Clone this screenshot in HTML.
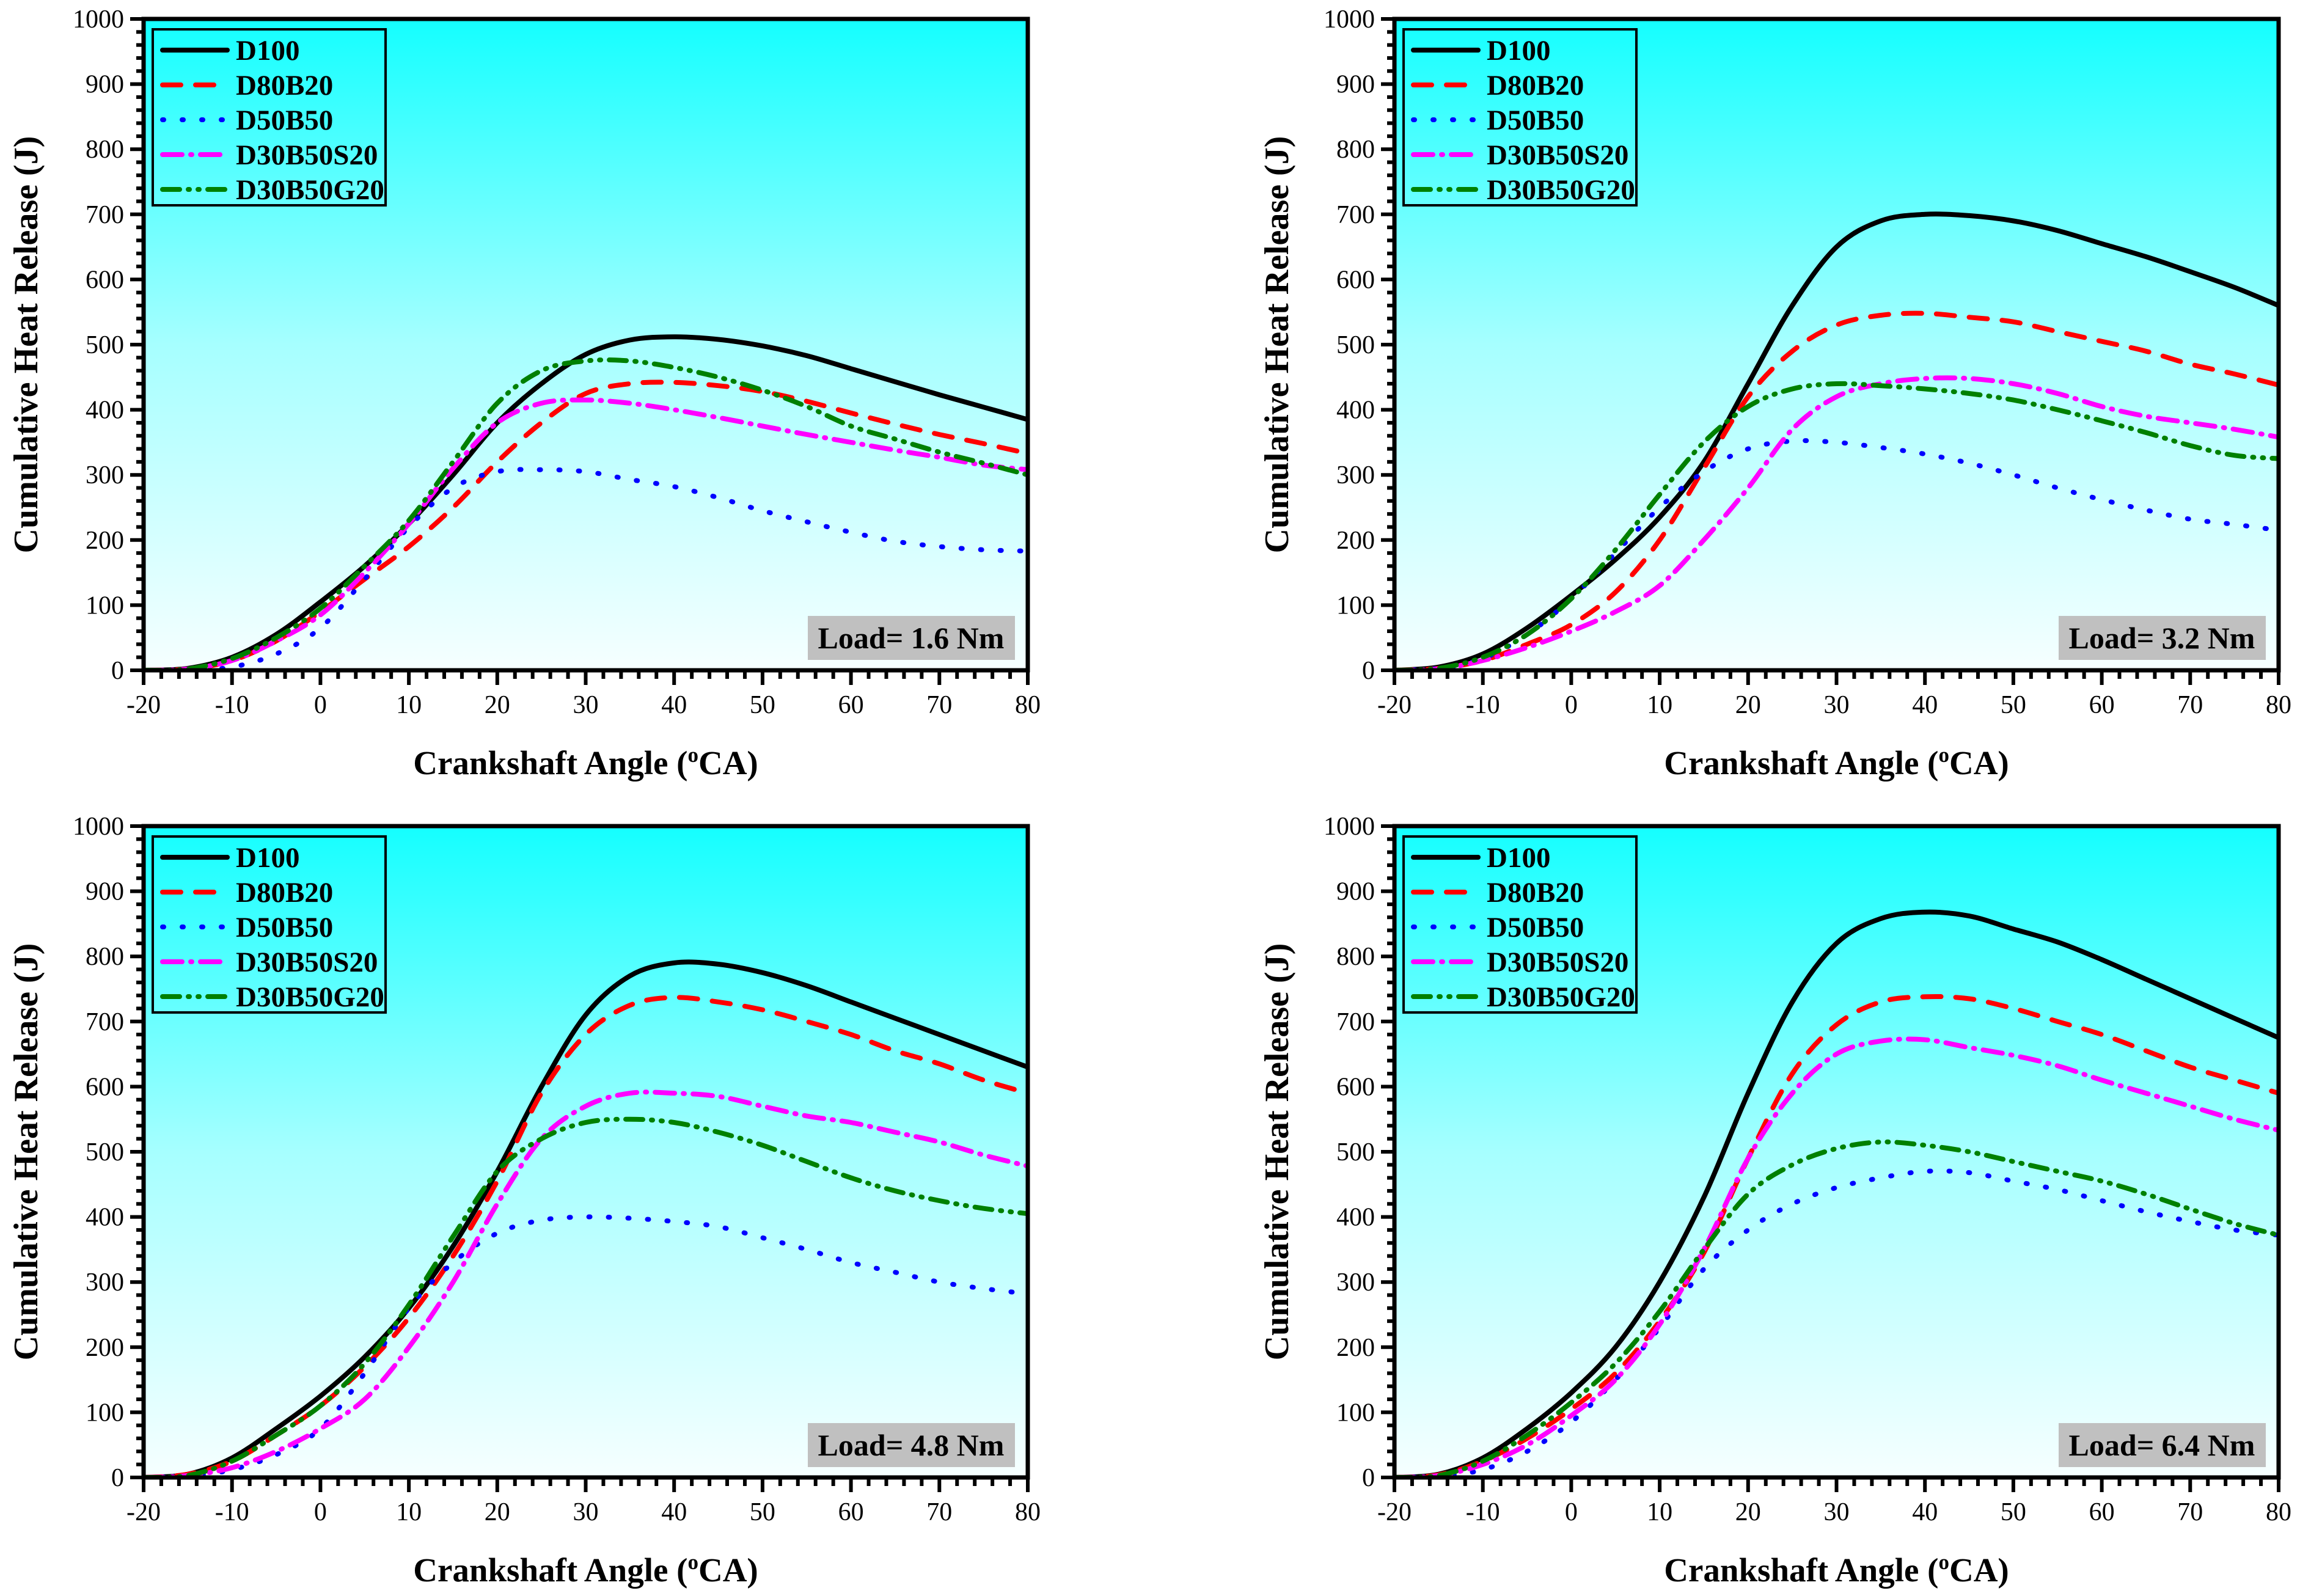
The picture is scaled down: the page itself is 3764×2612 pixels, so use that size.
<!DOCTYPE html>
<html><head><meta charset="utf-8"><style>
html,body{margin:0;padding:0;background:#fff;}
svg{display:block;font-family:"Liberation Serif",serif;}
</style></head><body>
<svg id="chart" width="3764" height="2612" viewBox="0 0 3764 2612" xmlns="http://www.w3.org/2000/svg">
<defs><linearGradient id="bg" x1="0" y1="0" x2="0" y2="1">
<stop offset="0" stop-color="#14ffff"/><stop offset="0.5" stop-color="#a6ffff"/><stop offset="1" stop-color="#f6ffff"/></linearGradient></defs>
</svg>
<script>
const xVals=[-20,-15,-10,-5,0,5,10,15,20,25,30,35,40,45,50,55,60,65,70,75,80];
const seriesNames=["D100","D80B20","D50B50","D30B50S20","D30B50G20"];
const loads=["Load= 1.6 Nm","Load= 3.2 Nm","Load= 4.8 Nm","Load= 6.4 Nm"];
const p1D100=[0,3,20,55,105,160,225,300,380,440,485,507,512,508,498,483,463,443,423,404,385];
const p1D80B20=[0,2,15,45,90,140,190,250,320,380,425,440,442,437,428,413,395,378,362,348,333];
const p1D50B50=[0,0,5,25,65,140,220,280,305,308,305,293,282,265,245,228,212,198,190,185,183];
const p1S20=[0,2,15,45,85,150,225,310,380,410,415,410,400,388,375,362,350,338,327,315,308];
const p1G20=[0,2,18,50,95,160,230,320,410,460,475,475,465,450,430,405,375,355,335,318,300];
const p2D100=[0,5,25,65,115,170,235,320,440,560,650,690,700,698,690,675,655,635,612,588,560];
const p2D80B20=[0,3,15,40,70,120,200,310,420,490,530,545,548,542,535,520,505,490,470,455,438];
const p2D50B50=[0,3,18,55,110,180,250,305,340,352,350,342,332,318,300,280,262,246,232,224,215];
const p2S20=[0,2,15,35,60,90,130,200,280,370,420,440,448,448,440,425,405,390,380,370,358];
const p2G20=[0,3,20,55,110,185,270,350,405,432,440,437,432,425,415,400,383,365,345,330,325];
const p3D100=[0,5,30,75,125,185,260,355,470,600,710,770,790,788,775,755,730,705,680,655,630];
const p3D80B20=[0,5,25,65,110,170,245,340,455,590,680,725,737,730,718,700,680,655,635,610,590];
const p3D50B50=[0,2,12,35,75,160,260,330,375,395,400,398,393,385,368,350,330,315,300,290,282];
const p3S20=[0,3,15,40,75,120,200,300,420,520,570,590,590,585,570,555,545,530,515,495,478];
const p3G20=[0,3,25,65,110,175,265,370,470,520,545,550,545,530,510,485,460,440,425,413,405];
const p4D100=[0,5,30,75,130,200,300,430,590,730,820,858,868,862,842,822,795,765,735,705,675];
const p4D80B20=[0,4,25,60,105,160,240,345,490,620,695,730,738,735,720,700,680,655,630,610,590];
const p4D50B50=[0,2,12,40,85,150,230,320,380,420,445,460,470,468,455,442,425,408,393,380,372];
const p4S20=[0,3,20,50,95,150,235,350,490,590,650,670,672,660,648,632,610,590,570,550,533];
const p4G20=[0,3,25,65,115,175,255,350,435,480,505,515,510,500,485,470,455,435,412,390,372];
const panelData=[[p1D100,p1D80B20,p1D50B50,p1S20,p1G20],[p2D100,p2D80B20,p2D50B50,p2S20,p2G20],[p3D100,p3D80B20,p3D50B50,p3S20,p3G20],[p4D100,p4D80B20,p4D50B50,p4S20,p4G20]];
const xTicks=[-20,-10,0,10,20,30,40,50,60,70,80];
const yTicks=[0,100,200,300,400,500,600,700,800,900,1000];

const colors=["#000","#ff0000","#0000ff","#ff00ff","#008000"];
const dashes=["","30 24","2 30","32 14 2 14","28 14 2 14 2 14"];
const NS="http://www.w3.org/2000/svg";
const svg=document.getElementById('chart');
function mk(tag,attrs,parent){const e=document.createElementNS(NS,tag);for(const k in attrs)e.setAttribute(k,attrs[k]);(parent||svg).appendChild(e);return e;}
const W=1447,H=1066;
const origins=[[235,31],[2282,31],[235,1352],[2282,1352]];
function pathFor(pts){let d="M"+pts[0][0]+","+pts[0][1];
for(let i=0;i<pts.length-1;i++){const p0=pts[Math.max(0,i-1)],p1=pts[i],p2=pts[i+1],p3=pts[Math.min(pts.length-1,i+2)];
const c1=[p1[0]+(p2[0]-p0[0])/6,p1[1]+(p2[1]-p0[1])/6],c2=[p2[0]-(p3[0]-p1[0])/6,p2[1]-(p3[1]-p1[1])/6];
d+=" C"+c1[0].toFixed(1)+","+c1[1].toFixed(1)+" "+c2[0].toFixed(1)+","+c2[1].toFixed(1)+" "+p2[0].toFixed(1)+","+p2[1].toFixed(1);}return d;}
origins.forEach((o,pi)=>{
const X0=o[0],Y0=o[1];
const sx=v=>X0+(v+20)/100*W, sy=v=>Y0+H-v/1000*H;
const g=mk('g',{});


const bg=mk('rect',{x:X0,y:Y0,width:W,height:H,fill:'url(#bg)'},g);


const cp='clip'+pi;const c=mk('clipPath',{id:cp},g);mk('rect',{x:X0,y:Y0,width:W,height:H},c);
const sg=mk('g',{'clip-path':'url(#'+cp+')'},g);
panelData[pi].forEach((arr,si)=>{
const pts=arr.map((v,i)=>[sx(xVals[i]),sy(v)]);
const p=mk('path',{d:pathFor(pts),fill:'none',stroke:colors[si],'stroke-width':8,'stroke-linecap':'round','stroke-linejoin':'round'},sg);
if(dashes[si])p.setAttribute('stroke-dasharray',dashes[si]);


});
const fr=mk('rect',{x:X0,y:Y0,width:W,height:H,fill:'none',stroke:'#000','stroke-width':7},g);


for(let v=0;v<=1000;v+=20){const maj=v%100===0;mk('line',{x1:X0-(maj?22:12),x2:X0,y1:sy(v),y2:sy(v),stroke:'#000','stroke-width':6},g);}
yTicks.forEach(v=>{const t=mk('text',{x:X0-32,y:sy(v)+14,'text-anchor':'end','font-size':42},g);t.textContent=v;

});
for(let v=-20;v<=80;v+=2){const maj=v%10===0;mk('line',{x1:sx(v),x2:sx(v),y1:Y0+H,y2:Y0+H+(maj?24:14),stroke:'#000','stroke-width':6},g);}
xTicks.forEach(v=>{const t=mk('text',{x:sx(v),y:Y0+H+70,'text-anchor':'middle','font-size':42},g);t.textContent=v;

});
const xt=mk('text',{x:X0+W/2,y:Y0+H+170,'text-anchor':'middle','font-size':55,'font-weight':'bold'},g);
xt.innerHTML='Crankshaft Angle (<tspan dy="-20" font-size="35">o</tspan><tspan dy="20">CA)</tspan>';


const yt=mk('text',{x:0,y:0,'text-anchor':'middle','font-size':56,'font-weight':'bold',transform:'translate('+(X0-174)+','+(Y0+H/2)+') rotate(-90)'},g);
yt.textContent='Cumulative Heat Release (J)';


const lg=mk('g',{},g);


mk('rect',{x:X0+15,y:Y0+17,width:381,height:288,fill:'none',stroke:'#000','stroke-width':4},lg);
seriesNames.forEach((n,si)=>{const yy=Y0+51+si*57;
const ln=mk('line',{x1:X0+31,x2:X0+137,y1:yy,y2:yy,stroke:colors[si],'stroke-width':8,'stroke-linecap':'round'},lg);
if(dashes[si])ln.setAttribute('stroke-dasharray',dashes[si]);


const t=mk('text',{x:X0+151,y:yy+16,'font-size':47,'font-weight':'bold'},lg);t.textContent=n;

});
const lb=mk('g',{},g);


mk('rect',{x:X0+1087,y:Y0+977,width:339,height:72,fill:'#c0c0c0'},lb);
const lt=mk('text',{x:X0+1256,y:Y0+1030,'text-anchor':'middle','font-size':50,'font-weight':'bold'},lb);lt.textContent=loads[pi];
});
</script>
</body></html>
